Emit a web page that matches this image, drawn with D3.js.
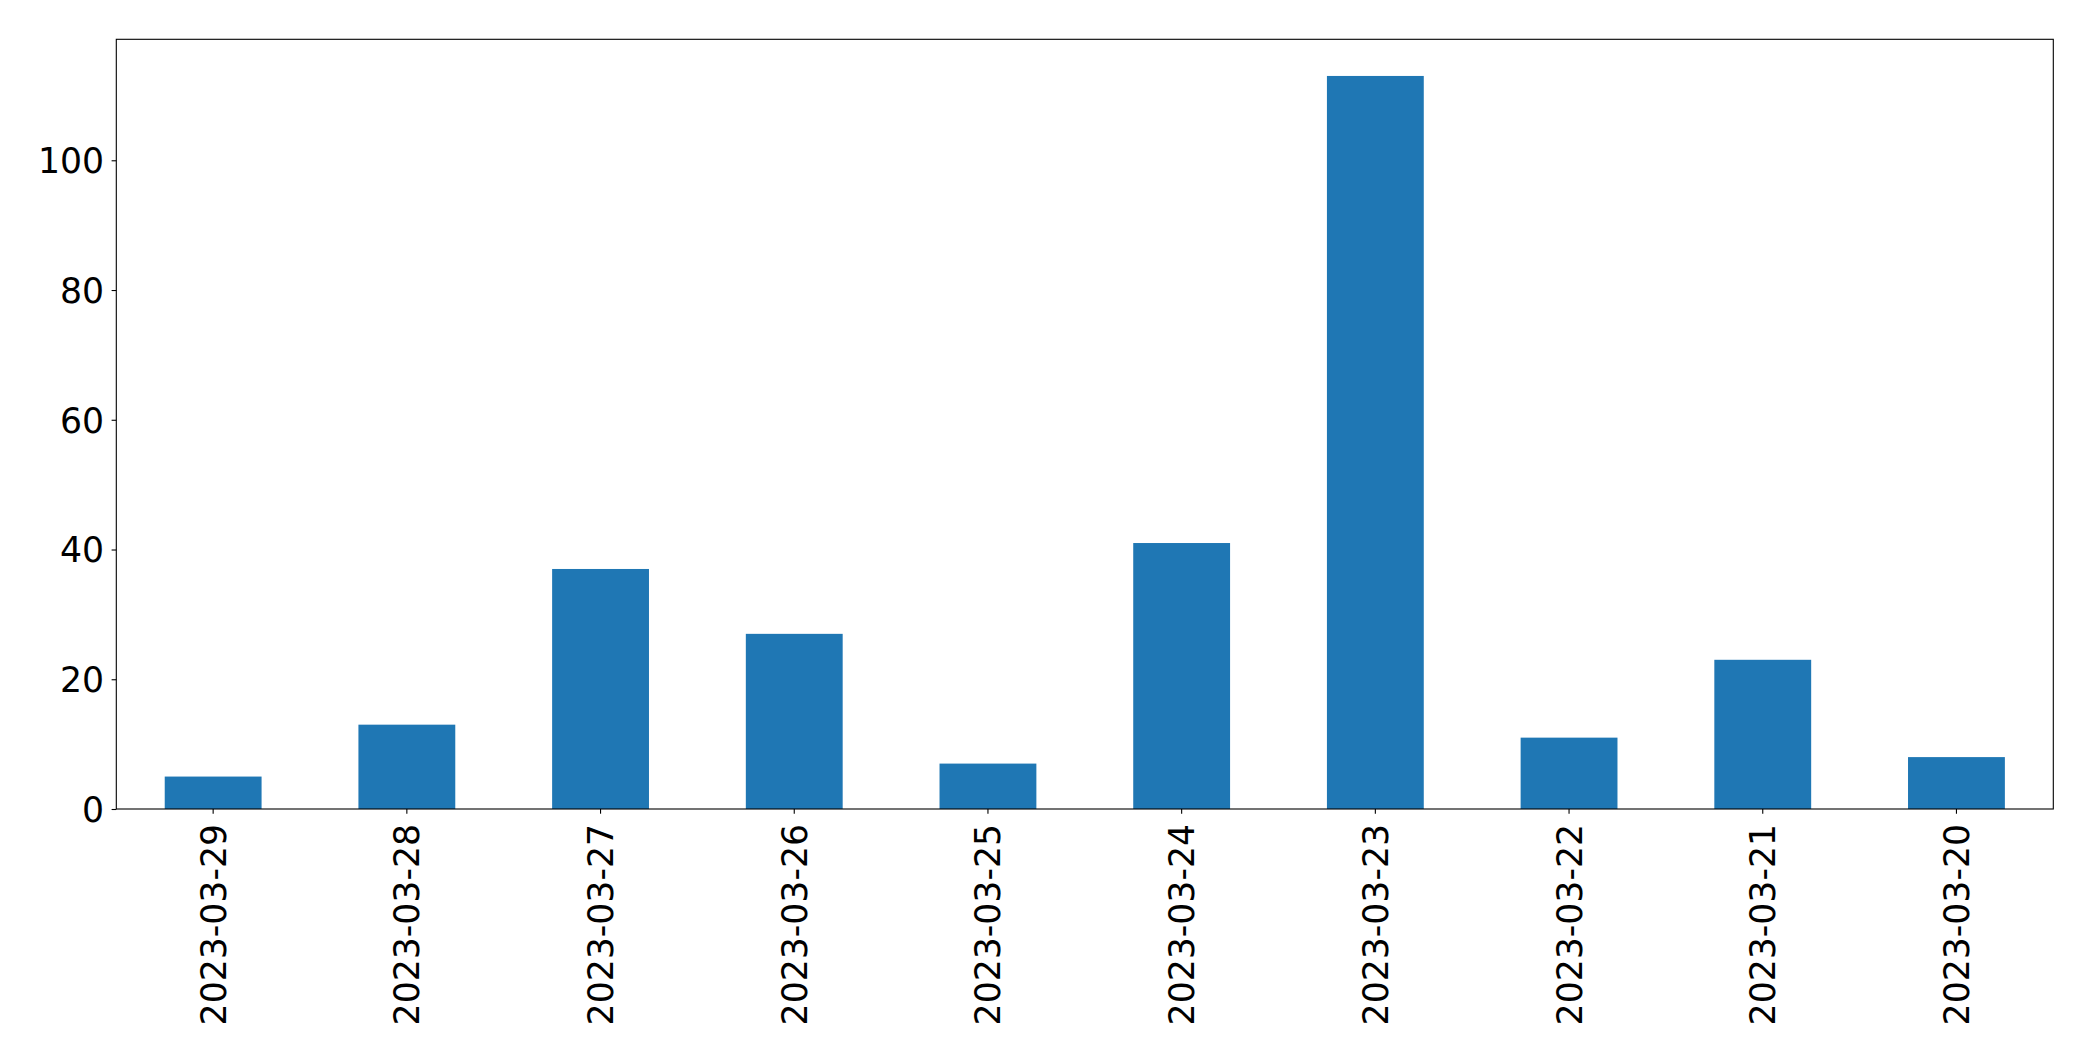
<!DOCTYPE html>
<html>
<head>
<meta charset="utf-8">
<script src="https://cdn.jsdelivr.net/npm/d3@7/dist/d3.min.js"></script>
<style>
  html, body { margin: 0; padding: 0; background: #fff; }
  svg { display: block; }
</style>
</head>
<body>
<svg id="chart" width="2093" height="1061"></svg>
<script>
const categories = ["2023-03-29","2023-03-28","2023-03-27","2023-03-26","2023-03-25","2023-03-24","2023-03-23","2023-03-22","2023-03-21","2023-03-20"];
const values = [5, 13, 37, 27, 7, 41, 113, 11, 23, 8];
const yTicks = [0, 20, 40, 60, 80, 100];

const W = 2093, H = 1061;
const margin = {left: 116.3, right: W - 2053.3, top: 39.3, bottom: H - 809};
const svg = d3.select("#chart");
const fontFamily = "'DejaVu Sans', sans-serif";
const fontSize = 34.67;

const x = d3.scaleBand()
  .domain(categories)
  .range([margin.left, W - margin.right])
  .paddingInner(0.5).paddingOuter(0.25);

const yMax = d3.max(values) * 1.05;
const y = d3.scaleLinear().domain([0, yMax]).range([H - margin.bottom, margin.top]);

// bars
svg.append("g").selectAll("rect")
  .data(values)
  .join("rect")
  .attr("x", (d, i) => x(categories[i]))
  .attr("width", x.bandwidth())
  .attr("y", d => y(d))
  .attr("height", d => y(0) - y(d))
  .attr("fill", "#1f77b4");

// x axis
const xAxis = svg.append("g")
  .attr("transform", `translate(0,${H - margin.bottom})`)
  .call(d3.axisBottom(x).tickSize(4.7).tickPadding(0));
xAxis.select(".domain").remove();
xAxis.selectAll(".tick line").attr("stroke", "#000").attr("stroke-width", 1.1);
xAxis.selectAll(".tick text")
  .attr("font-family", fontFamily)
  .attr("font-size", fontSize)
  .attr("fill", "#000")
  .attr("text-anchor", "end")
  .attr("transform", "translate(0,15) rotate(-90)")
  .attr("x", 0).attr("y", 0)
  .attr("dy", "0.36em");

// y axis
const yAxis = svg.append("g")
  .attr("transform", `translate(${margin.left},0)`)
  .call(d3.axisLeft(y).tickValues(yTicks).tickSize(4.7).tickPadding(7.5));
yAxis.select(".domain").remove();
yAxis.selectAll(".tick line").attr("stroke", "#000").attr("stroke-width", 1.1);
yAxis.selectAll(".tick text")
  .attr("font-family", fontFamily)
  .attr("font-size", fontSize)
  .attr("fill", "#000")
  .attr("dy", "0.36em");

// frame
svg.append("rect")
  .attr("x", margin.left).attr("y", margin.top)
  .attr("width", W - margin.left - margin.right)
  .attr("height", H - margin.top - margin.bottom)
  .attr("fill", "none").attr("stroke", "#000").attr("stroke-width", 1.1);
</script>
</body>
</html>
